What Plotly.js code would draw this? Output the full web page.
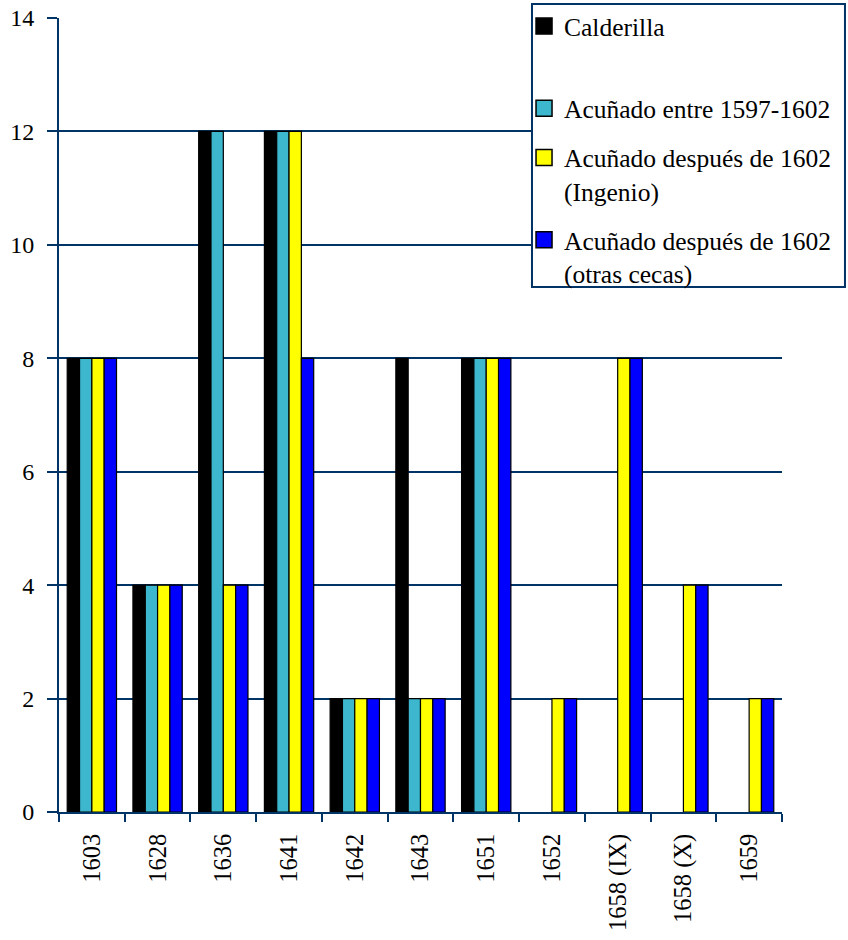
<!DOCTYPE html>
<html>
<head>
<meta charset="utf-8">
<script src="https://cdn.plot.ly/plotly-3.0.1.min.js"></script>
<style>html,body{margin:0;padding:0;background:#fff;}#chart{width:848px;height:940px;}</style>
</head>
<body>
<div id="chart"></div>
<script>
const categories = ["1603","1628","1636","1641","1642","1643","1651","1652","1658 (IX)","1658 (X)","1659"];
const seriesNames = ["Calderilla","Acuñado entre 1597-1602","Acuñado después de 1602<br>(Ingenio)","Acuñado después de 1602<br>(otras cecas)"];
const calderilla = [8,4,12,12,2,8,8,0,0,0,0];
const acunado1597 = [8,4,12,12,2,2,8,0,0,0,0];
const ingenio = [8,4,4,12,2,2,8,2,8,4,2];
const otrasCecas = [8,4,4,8,2,2,8,2,8,4,2];
const seriesValues = [calderilla, acunado1597, ingenio, otrasCecas];
const colors = ["#000000","#3DB7CE","#FFFF00","#0000FF"];
const yTicks = [0,2,4,6,8,10,12,14];

const axisColor = "#003366";
const fam = "'Liberation Serif', 'Times New Roman', Times, serif";
const font = {family: fam, color: "#000", size: 24};

// legend label text (first entry padded with an empty line for spacing like the original)
const legendLabels = seriesNames.map((n, i) => i === 0 ? n + "<br>&nbsp;" : n);

const barTraces = seriesValues.map((vals, i) => ({
  type: "bar",
  name: seriesNames[i],
  x: categories,
  y: vals,
  showlegend: false,
  marker: {color: colors[i], line: {color: "#000", width: vals.map(v => v > 0 ? 1.2 : 0)}},
  hoverinfo: "x+y+name"
}));

const legendTraces = seriesValues.map((vals, i) => ({
  type: "scatter",
  mode: "markers",
  name: legendLabels[i],
  legendgroup: "g" + i,
  x: [null], y: [null],
  showlegend: true,
  hoverinfo: "skip",
  marker: {symbol: "square", size: 16, color: colors[i], line: {color: "#000", width: 1.5}}
}));

const layout = {
  width: 848, height: 940,
  margin: {l: 59, r: 66, t: 18, b: 128, autoexpand: false},
  paper_bgcolor: "#fff", plot_bgcolor: "#fff",
  font: font,
  barmode: "group", bargap: 0.25, bargroupgap: 0,
  showlegend: true,
  legend: {
    x: 0.6432, y: 1.0189, xanchor: "left", yanchor: "top",
    bgcolor: "rgba(0,0,0,0)", borderwidth: 0,
    font: {family: fam, size: 25.5, color: "#000"},
    valign: "top", traceorder: "grouped", tracegroupgap: 13,
    itemsizing: "trace"
  },
  shapes: [{
    type: "rect", xref: "paper", yref: "paper",
    x0: 0.6542, x1: 1.0871, y0: 0.6612, y1: 1.0176,
    line: {color: axisColor, width: 2}, fillcolor: "#fff", layer: "above"
  }],
  xaxis: {
    type: "category", categoryorder: "array", categoryarray: categories,
    showline: true, linecolor: axisColor, linewidth: 2,
    ticks: "outside", tickson: "boundaries", ticklen: 8, tickwidth: 2, tickcolor: axisColor,
    tickangle: -90, showgrid: false, zeroline: false,
    tickfont: {family: fam, size: 24.5, color: "#000"},
    ticklabelstandoff: 10
  },
  yaxis: {
    range: [0, 14], tickvals: yTicks, ticktext: yTicks.map(String),
    showline: true, linecolor: axisColor, linewidth: 2,
    ticks: "outside", ticklen: 10, tickwidth: 2, tickcolor: axisColor,
    showgrid: true, gridcolor: axisColor, gridwidth: 2, zeroline: false,
    tickfont: {family: fam, size: 24, color: "#000"},
    ticklabelstandoff: 8
  }
};

Plotly.newPlot("chart", barTraces.concat(legendTraces), layout, {displayModeBar: false, staticPlot: true});
</script>
</body>
</html>
